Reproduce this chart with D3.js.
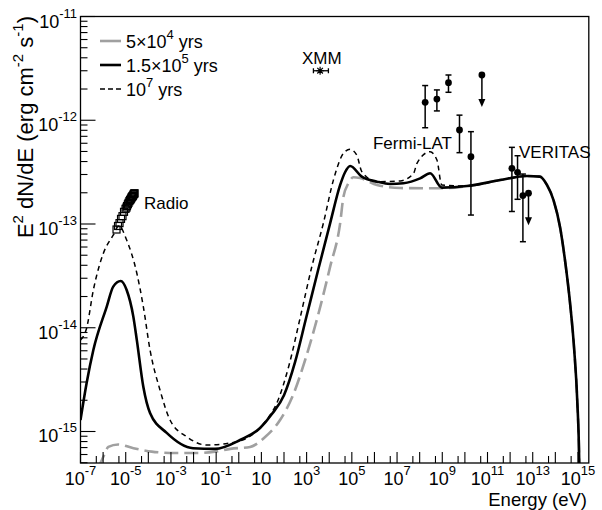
<!DOCTYPE html>
<html><head><meta charset="utf-8">
<script src="https://cdn.jsdelivr.net/npm/d3@7"></script>
<style>
body{margin:0;background:#fff}
text{font-family:"Liberation Sans",Arial,Helvetica,sans-serif;fill:#000}
</style>
</head><body>
<svg id="c" width="602" height="510"></svg>
<script>
// ---------- DATA ----------
// Model curve 1.5x10^5 yrs (solid black)
const blackE = [1e-7,1.86e-7,3.7e-7,1.45e-6,2.8e-6,6.0e-6,1.1e-5,2.17e-5,3.1e-5,6.0e-5,1.19e-4,6.5e-4,9.5e-3,8.9e-2,1.14,8.75,29.7,101,310,950,3.23e3,1.1e4,3.05e4,5.08e4,8.45e4,2.75e5,1.3e6,4.9e6,1.9e7,1.05e8,2.9e8,9.5e8];
const blackF = [1.29e-15,2.92e-15,6.1e-15,1.6e-14,2.49e-14,2.82e-14,2.31e-14,1.28e-14,7.6e-15,2.7e-15,1.51e-15,9.7e-16,6.9e-16,6.8e-16,8.28e-16,1.08e-15,1.48e-15,2.25e-15,4.68e-15,1.24e-14,3.6e-14,1.02e-13,2.38e-13,3.17e-13,3.62e-13,2.86e-13,2.56e-13,2.43e-13,2.47e-13,2.75e-13,3.08e-13,2.24e-13];
// High-energy part shared by all three models
const tailE = [1.23e10,3.6e11,5.5e12,2.1e13,4.25e13,8.3e13,1.65e14,2.74e14,4.56e14,6.85e14,9.3e14,1.14e15,1.17e15];
const tailF = [2.32e-13,2.65e-13,2.9e-13,2.86e-13,2.38e-13,1.70e-13,9.1e-14,4.3e-14,1.66e-14,6.1e-15,2.0e-15,5.0e-16,3e-16];
// Model curve 10^7 yrs (dashed black)
const dashE = [1e-7,1.86e-7,3.7e-7,1.02e-6,2.8e-6,5.0e-6,1.1e-5,3.1e-5,6.0e-5,1.19e-4,3.3e-4,9.1e-4,5.0e-3,3.8e-2,0.41,3.16,14.6,54.8,168,515,1.7e3,5.53e3,1.53e4,4.25e4,8.3e4,1.66e5,2.75e5,1.3e6,1.38e7,5.4e7,7.6e7,2.9e8,5.8e8,9.5e8];
const dashF = [7.6e-15,9.9e-15,2.31e-14,5.2e-14,7.8e-14,9.6e-14,7.0e-14,3.35e-14,1.6e-14,6.1e-15,2.5e-15,1.29e-15,8.9e-16,7.4e-16,7.74e-16,9.0e-16,1.24e-15,2.01e-15,4.38e-15,1.24e-14,3.88e-14,1.02e-13,2.65e-13,4.8e-13,5.25e-13,4.6e-13,3.2e-13,2.56e-13,2.6e-13,3.08e-13,3.85e-13,4.97e-13,4.14e-13,2.38e-13];
// Model curve 5x10^4 yrs (grey long dash)
const grayE = [6.3e-7,1.1e-6,1.7e-6,4.6e-6,2.2e-5,1.4e-4,1.5e-3,1.6e-2,8.9e-2,0.42,3.16,14.6,67,253,861,3.23e3,1.1e4,3.05e4,4.25e4,7.1e4,1.17e5,2.3e5,1.3e6,1.4e7,9.5e8];
const grayF = [4.5e-16,5.9e-16,7.1e-16,7.5e-16,6.9e-16,6.4e-16,6.2e-16,6.2e-16,6.4e-16,6.8e-16,7.1e-16,8.85e-16,1.29e-15,2.25e-15,4.89e-15,1.33e-14,3.88e-14,1.02e-13,1.83e-13,2.47e-13,2.82e-13,2.77e-13,2.38e-13,2.22e-13,2.21e-13];

// Radio data (open squares)
const radioE = [3.92e-6,4.56e-6,5.32e-6,6.2e-6,7.2e-6,8.4e-6,9.8e-6,1.08e-5,1.14e-5,1.25e-5,1.33e-5,1.45e-5,1.55e-5,1.65e-5,1.72e-5,1.81e-5,1.88e-5,1.95e-5,2.03e-5,2.1e-5,2.2e-5,2.3e-5,2.38e-5,2.45e-5];
const radioF = [8.85e-14,9.57e-14,1.02e-13,1.12e-13,1.19e-13,1.31e-13,1.40e-13,1.44e-13,1.49e-13,1.55e-13,1.60e-13,1.66e-13,1.70e-13,1.73e-13,1.76e-13,1.80e-13,1.82e-13,1.84e-13,1.86e-13,1.88e-13,1.92e-13,1.95e-13,1.96e-13,1.98e-13];

// XMM
const xmmE = [3.95e3], xmmF = [3.0e-12], xmmElo = [2.0e3], xmmEhi = [9.2e3];

// Fermi-LAT points
const fermiE  = [1.75e8,5.77e8,1.88e9,5.77e9,1.85e10];
const fermiF  = [1.49e-12,1.60e-12,2.30e-12,8.05e-13,4.46e-13];
const fermiLo = [8.47e-13,1.23e-12,1.86e-12,4.87e-13,1.22e-13];
const fermiHi = [2.16e-12,1.96e-12,2.73e-12,1.12e-12,7.76e-13];
const fermiUlE = [5.65e10], fermiUlF = [2.73e-12];

// VERITAS points
const verE  = [1.2e12,2.13e12,3.68e12];
const verF  = [3.44e-13,3.15e-13,1.88e-13];
const verLo = [1.32e-13,1.73e-13,6.75e-14];
const verHi = [5.48e-13,4.55e-13,3.03e-13];
const verUlE = [6.5e12], verUlF = [1.98e-13];

// Axis tick labels (exponents of 10)
const xLabelExps = [-7,-5,-3,-1,1,3,5,7,9,11,13,15];
const yLabelExps = [-15,-14,-13,-12,-11];

// Legend
const legendBase = ["5\u00d710","1.5\u00d710","10"];
const legendExp  = ["4","5","7"];
const legendSuffix = " yrs";

// ---------- DRAW ----------
const svg = d3.select("#c");
const L = 80.5, R = 588.8, T = 16.5, B = 463;
const x = d3.scaleLog().domain([1e-7, Math.pow(10,15.48)]).range([L, R]);
const y = d3.scaleLog().domain([4.97e-16, 1e-11]).range([B, T]);

svg.append("defs").append("clipPath").attr("id","clip")
  .append("rect").attr("x",L).attr("y",T).attr("width",R-L).attr("height",B-T);

const zip = (a,b) => a.map((v,i)=>[v,b[i]]);
const line = d3.line().x(d=>x(d[0])).y(d=>y(d[1])).curve(d3.curveMonotoneX);

const gCurves = svg.append("g").attr("clip-path","url(#clip)");
gCurves.append("path").datum(zip(grayE.concat(tailE), grayF.concat(tailF)))
  .attr("d",line).attr("fill","none").attr("stroke","#a0a0a0").attr("stroke-width",2.6)
  .attr("stroke-dasharray","14,6");
gCurves.append("path").datum(zip(blackE.concat(tailE), blackF.concat(tailF)))
  .attr("d",line).attr("fill","none").attr("stroke","#000").attr("stroke-width",2.6);
gCurves.append("path").datum(zip(dashE.concat(tailE), dashF.concat(tailF)))
  .attr("d",line).attr("fill","none").attr("stroke","#000").attr("stroke-width",1.5)
  .attr("stroke-dasharray","5,4");

// Frame
svg.append("rect").attr("x",L).attr("y",T).attr("width",R-L).attr("height",B-T)
  .attr("fill","none").attr("stroke","#000").attr("stroke-width",1.3);

// Y ticks
const gAx = svg.append("g").attr("stroke","#000").attr("stroke-width",1.1);
for (let e=-16; e<=-11; e++) {
  for (let k=1; k<=9; k++) {
    const v = k*Math.pow(10,e);
    if (v < 4.97e-16 || v > 1.0001e-11) continue;
    const yy = y(v);
    gAx.append("line").attr("x1",L).attr("x2",L+(k===1?15:7)).attr("y1",yy).attr("y2",yy);
  }
}
// X ticks
for (let e=-7; e<=15; e++) {
  const xx = x(Math.pow(10,e));
  gAx.append("line").attr("x1",xx).attr("x2",xx).attr("y1",B).attr("y2",B-11);
  if (e>-7) {
    const xm = x(5*Math.pow(10,e-1));
    gAx.append("line").attr("x1",xm).attr("x2",xm).attr("y1",B).attr("y2",B-7);
  }
}

function pow10Label(sel, exp, fs, sfs) {
  sel.append("tspan").style("font-size",fs+"px").text("10");
  if (exp !== 1) sel.append("tspan").attr("dy",-10).style("font-size",sfs+"px").text(String(exp));
}
xLabelExps.forEach(e=>{
  const t = svg.append("text").attr("x",x(Math.pow(10,e))).attr("y",485).attr("text-anchor","middle");
  pow10Label(t, e, 18, 13);
});
yLabelExps.forEach(e=>{
  const t = svg.append("text").attr("x",77).attr("y",y(Math.pow(10,e))+11).attr("text-anchor","end");
  pow10Label(t, e, 18, 13);
});

// Axis titles
svg.append("text").attr("x",587).attr("y",505.5).attr("text-anchor","end")
  .style("font-size","18.5px").text("Energy (eV)");
const yt = svg.append("text").attr("transform","translate(33,16) rotate(-90)")
  .attr("text-anchor","end").style("font-size","22px");
yt.append("tspan").text("E");
yt.append("tspan").attr("dy",-10).style("font-size","15px").text("2");
yt.append("tspan").attr("dy",10).text(" dN/dE (erg cm");
yt.append("tspan").attr("dy",-10).style("font-size","15px").text("-2");
yt.append("tspan").attr("dy",10).text(" s");
yt.append("tspan").attr("dy",-10).style("font-size","15px").text("-1");
yt.append("tspan").attr("dy",10).text(")");

// Radio squares
svg.append("g").selectAll("rect").data(zip(radioE,radioF)).join("rect")
  .attr("x",d=>x(d[0])-3.5).attr("y",d=>y(d[1])-3.5).attr("width",7).attr("height",7)
  .attr("fill","none").attr("stroke","#000").attr("stroke-width",1.2);

// Error bars helper
const gPts = svg.append("g");
function errPoints(E,F,Lo,Hi){
  E.forEach((e,i)=>{
    const xx=x(e);
    gPts.append("line").attr("x1",xx).attr("x2",xx).attr("y1",y(Lo[i])).attr("y2",y(Hi[i]))
      .attr("stroke","#000").attr("stroke-width",1.5);
    [Lo[i],Hi[i]].forEach(v=>gPts.append("line").attr("x1",xx-3).attr("x2",xx+3)
      .attr("y1",y(v)).attr("y2",y(v)).attr("stroke","#000").attr("stroke-width",1.5));
    gPts.append("circle").attr("cx",xx).attr("cy",y(F[i])).attr("r",3.4).attr("fill","#000");
  });
}
function ulPoints(E,F){
  E.forEach((e,i)=>{
    const xx=x(e), yy=y(F[i]);
    gPts.append("line").attr("x1",xx).attr("x2",xx).attr("y1",yy).attr("y2",yy+25)
      .attr("stroke","#000").attr("stroke-width",1.5);
    gPts.append("path").attr("d",`M${xx-3.5},${yy+24}L${xx+3.5},${yy+24}L${xx},${yy+32}Z`).attr("fill","#000");
    gPts.append("circle").attr("cx",xx).attr("cy",yy).attr("r",3.4).attr("fill","#000");
  });
}
errPoints(fermiE,fermiF,fermiLo,fermiHi);
ulPoints(fermiUlE,fermiUlF);
errPoints(verE,verF,verLo,verHi);
ulPoints(verUlE,verUlF);

// XMM
xmmE.forEach((e,i)=>{
  const xx=x(e), yy=y(xmmF[i]), x1=x(xmmElo[i]), x2=x(xmmEhi[i]);
  gPts.append("line").attr("x1",x1).attr("x2",x2).attr("y1",yy).attr("y2",yy).attr("stroke","#000").attr("stroke-width",1.3);
  [x1,x2].forEach(v=>gPts.append("line").attr("x1",v).attr("x2",v).attr("y1",yy-2.5).attr("y2",yy+2.5).attr("stroke","#000").attr("stroke-width",1.3));
  const s=4;
  gPts.append("path").attr("d",`M${xx-s},${yy}L${xx+s},${yy}M${xx},${yy-s}L${xx},${yy+s}M${xx-s*0.7},${yy-s*0.7}L${xx+s*0.7},${yy+s*0.7}M${xx-s*0.7},${yy+s*0.7}L${xx+s*0.7},${yy-s*0.7}`)
    .attr("stroke","#000").attr("stroke-width",1.2);
});

// Data labels
svg.append("text").attr("x",144).attr("y",209).style("font-size","17px").text("Radio");
svg.append("text").attr("x",452).attr("y",149).attr("text-anchor","end").style("font-size","17px").text("Fermi-LAT");
svg.append("text").attr("x",519).attr("y",158).style("font-size","17px").text("VERITAS");
svg.append("text").attr("x",302).attr("y",64).style("font-size","17px").text("XMM");

// Legend
const rowsY = [41,65,89];
const lg = svg.append("g");
lg.append("line").attr("x1",100).attr("x2",121).attr("y1",rowsY[0]).attr("y2",rowsY[0]).attr("stroke","#a0a0a0").attr("stroke-width",2.6);
lg.append("line").attr("x1",100).attr("x2",121).attr("y1",rowsY[1]).attr("y2",rowsY[1]).attr("stroke","#000").attr("stroke-width",2.6);
lg.append("line").attr("x1",100).attr("x2",121).attr("y1",rowsY[2]).attr("y2",rowsY[2]).attr("stroke","#000").attr("stroke-width",1.5).attr("stroke-dasharray","5,3");
legendBase.forEach((b,i)=>{
  const t = lg.append("text").attr("x",126).attr("y",rowsY[i]+6.5).style("font-size","18px");
  t.append("tspan").text(b);
  t.append("tspan").attr("dy",-9).style("font-size","13px").text(legendExp[i]);
  t.append("tspan").attr("dy",9).text(legendSuffix);
});
</script>
</body></html>
